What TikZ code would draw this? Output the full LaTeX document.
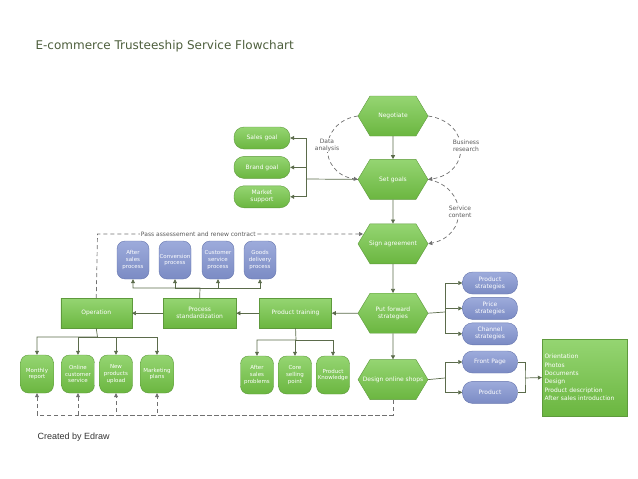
\documentclass[tikz,border=0pt]{standalone}
\usepackage{fontspec}
\setmainfont{DejaVu Sans}
\newfontfamily\edrawfont{Liberation Sans}
\usetikzlibrary{arrows.meta,positioning,shapes.symbols,calc}

\definecolor{gtop}{HTML}{95D572}
\definecolor{gbot}{HTML}{6BB640}
\definecolor{gline}{HTML}{5E9A3C}
\definecolor{btop}{HTML}{9DABDB}
\definecolor{bbot}{HTML}{7B8BC4}
\definecolor{bline}{HTML}{6676AE}
\definecolor{wire}{HTML}{5B6B4B}
\definecolor{dashc}{HTML}{707070}
\definecolor{titlec}{HTML}{4D5E3C}

\begin{document}
\begin{tikzpicture}[x=1pt, y=-1pt,
  hexa/.style={shape=signal, signal to=east and west, signal pointer angle=118, draw=gline, top color=gtop, bottom color=gbot, minimum width=70pt, minimum height=40pt, inner xsep=-8pt, inner ysep=1pt, text=white, font=\fontsize{6}{7}\selectfont, align=center},
  gbox/.style={draw=gline, top color=gtop, bottom color=gbot, text=white, font=\fontsize{6}{7}\selectfont, align=center, inner sep=1pt},
  gpill/.style={gbox, rounded corners=10pt, minimum width=56pt, minimum height=22pt},
  bpill/.style={draw=bline, top color=btop, bottom color=bbot, text=white, font=\fontsize{6}{7}\selectfont, align=center, inner sep=1pt, rounded corners=10pt, minimum width=55pt, minimum height=22pt},
  bdrum/.style={draw=bline, top color=btop, bottom color=bbot, text=white, font=\fontsize{5.5}{6.6}\selectfont, align=center, inner sep=0pt, rounded corners=8pt, minimum width=32pt, minimum height=38pt},
  gdrum/.style={gbox, font=\fontsize{5.5}{6.6}\selectfont, inner sep=0pt, rounded corners=8pt, minimum width=33pt, minimum height=38pt},
  arr/.style={-{Triangle[length=4pt,width=4pt]}, draw=wire, line width=0.7pt},
  ln/.style={draw=wire, line width=0.7pt},
  darr/.style={-{Triangle[length=4pt,width=4pt]}, draw=dashc, line width=0.7pt, dash pattern=on 4pt off 3pt},
  lab/.style={font=\fontsize{6}{7}\selectfont, text=dashc!80!black, align=center, fill=white, inner sep=0.5pt}
]
\useasboundingbox (0,0) rectangle (638,479);

\node[anchor=west, font=\fontsize{12}{14}\selectfont, text=titlec] (title) at (32,46) {E-commerce Trusteeship Service Flowchart};
\node[anchor=west, font=\edrawfont\fontsize{9}{10}\selectfont, text=black!80] (credit) at (34,437) {Created by Edraw};

% main column
\node[hexa] (negotiate) at (393,116) {Negotiate};
\node[hexa, below=23pt of negotiate] (setgoals) {Set goals};
\node[hexa, below=24pt of setgoals] (sign) {Sign agreement};
\node[hexa, below=29pt of sign] (putfwd) {Put forward\\strategies};
\node[hexa, below=26pt of putfwd] (design) {Design online shops};

% goals
\node[gpill] (salesgoal) at (262,138) {Sales goal};
\node[gpill, below=7pt of salesgoal] (brandgoal) {Brand goal};
\node[gpill, below=7pt of brandgoal] (market) {Market\\support};

% strategies
\node[bpill] (pstrat) at (490,283) {Product\\strategies};
\node[bpill, below=3pt of pstrat] (price) {Price\\strategies};
\node[bpill, below=3pt of price] (channel) {Channel\\strategies};

\node[bpill] (frontpage) at (490,362) {Front Page};
\node[bpill, below=8pt of frontpage] (product) {Product};
\node[gbox, minimum width=85pt, minimum height=77pt, text width=80pt, align=left, font=\fontsize{6}{8.3}\selectfont] (info) at (584.5,377.5) {Orientation\\Photos\\Documents\\Design\\Product description\\After sales introduction};

% middle row
\node[gbox, minimum width=72pt, minimum height=30pt, left=26pt of putfwd] (training) {Product training};
\node[gbox, minimum width=73pt, minimum height=30pt, left=23pt of training] (procstd) {Process\\standardization};
\node[gbox, minimum width=71pt, minimum height=30pt, left=31pt of procstd] (operation) {Operation};

% process drums
\node[bdrum] (aftproc) at (133,260) {After\\sales\\process};
\node[bdrum] (convproc) at (175,260) {Conversion\\process};
\node[bdrum] (custproc) at (218,260) {Customer\\service\\process};
\node[bdrum] (goodsproc) at (260,260) {Goods\\delivery\\process};

% operation items
\node[gdrum] (monthly) at (37,374) {Monthly\\report};
\node[gdrum] (online) at (78,374) {Online\\customer\\service};
\node[gdrum] (newprod) at (116,374) {New\\products\\upload};
\node[gdrum] (mplans) at (157,374) {Marketing\\plans};

% training items
\node[gdrum] (aftprob) at (257,375) {After\\sales\\problems};
\node[gdrum] (selling) at (295,375) {Core\\selling\\point};
\node[gdrum] (knowledge) at (333,375) {Product\\Knowledge};

% junctions
\coordinate (gt) at (306,179);
\coordinate (st) at (445,312);
\coordinate (dt) at (445,378);
\coordinate (ft) at (525,378);
\coordinate (pt) at (200,288);
\coordinate (ot) at (97.5,337);
\coordinate (tt) at (296,340);
\coordinate (ut) at (97.5,234);
\coordinate (sa) at (363,234);
\coordinate (db) at (393,415);

% main flow
\draw[arr] (negotiate) -- (setgoals);
\draw[arr] (setgoals) -- (sign);
\draw[arr] (sign) -- (putfwd);
\draw[arr] (putfwd) -- (design);

\draw[ln] (setgoals.west) -- (gt);
\draw[arr] (gt) |- (salesgoal.east);
\draw[arr] (gt) |- (brandgoal.east);
\draw[arr] (gt) |- (market.east);

\draw[ln] (putfwd.east) -- (st);
\draw[arr] (st) |- (pstrat.west);
\draw[arr] (st) |- (price.west);
\draw[arr] (st) |- (channel.west);

\draw[ln] (design.east) -- (dt);
\draw[arr] (dt) |- (frontpage.west);
\draw[arr] (dt) |- (product.west);
\draw[ln] (frontpage.east) -| (ft) |- (product.east);
\draw[arr] (ft) -- (info.west);

\draw[arr] (putfwd) -- (training);
\draw[arr] (training) -- (procstd);
\draw[arr] (procstd) -- (operation);

\draw[arr] (procstd.north) -- (pt) -| (aftproc.south);
\draw[arr] (pt) -| (convproc.south);
\draw[arr] (pt) -| (custproc.south);
\draw[arr] (pt) -| (goodsproc.south);

\draw[arr] (operation.south) -- (ot) -| (monthly.north);
\draw[arr] (ot) -| (online.north);
\draw[arr] (ot) -| (newprod.north);
\draw[arr] (ot) -| (mplans.north);

\draw[arr] (training.south) -- (tt) -| (aftprob.north);
\draw[arr] (tt) -| (selling.north);
\draw[arr] (tt) -| (knowledge.north);

% dashed feedback
\draw[darr] (operation.north) -- (ut) -- node[lab, pos=0.38] {Pass assessement and renew contract} (sa);
\draw[darr] (design.south) -- (db) -| (monthly.south);
\draw[darr] (db) -| (online.south);
\draw[darr] (db) -| (newprod.south);
\draw[darr] (db) -| (mplans.south);

\draw[darr] (negotiate.west) .. controls +(-40,6) and +(-40,-6) .. (setgoals.west);
\draw[darr] (negotiate.east) .. controls +(43,6) and +(43,-6) .. (setgoals.east);
\draw[darr] (setgoals.east) .. controls +(40,8) and +(40,-8) .. (sign.east);
\node[lab] (dlab) at (327,145) {Data\\analysis};
\node[lab] (blab) at (466,146) {Business\\research};
\node[lab] (slab) at (460,212) {Service\\content};
\end{tikzpicture}
\end{document}
